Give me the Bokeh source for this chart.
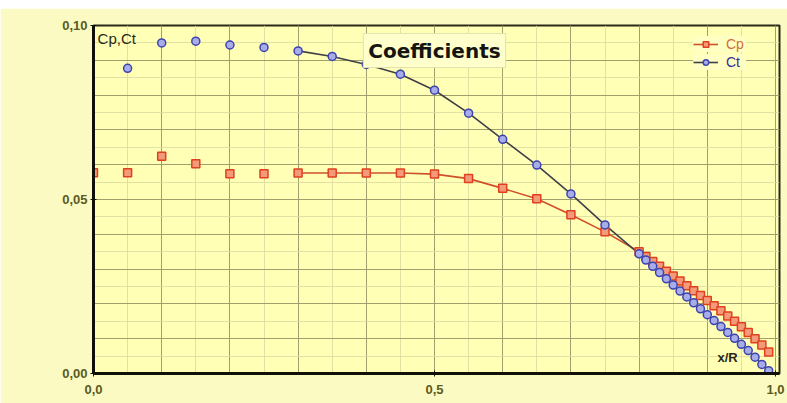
from bokeh.plotting import figure
from bokeh.models import (Range1d, SingleIntervalTicker, FixedTicker, CustomJSTickFormatter,
                          Label, Legend, LegendItem)
from bokeh.embed import file_html
from bokeh.resources import INLINE

# ---- data ----
x_cp = [0.0, 0.05, 0.10, 0.15, 0.20, 0.25, 0.30, 0.35, 0.40, 0.45, 0.50, 0.55, 0.60, 0.65, 0.70, 0.75, 0.80]
cp_vals = [0.0577, 0.0577, 0.0624, 0.0603, 0.0574, 0.0574, 0.0576, 0.0576, 0.0576, 0.0576, 0.0573, 0.0560, 0.0532, 0.0502, 0.0456, 0.0407, 0.0350]
x_ct = [0.05, 0.10, 0.15, 0.20, 0.25, 0.30, 0.35, 0.40, 0.45, 0.50, 0.55, 0.60, 0.65, 0.70, 0.75, 0.80]
ct_vals = [0.0877, 0.0950, 0.0955, 0.0944, 0.0937, 0.0927, 0.0911, 0.0888, 0.0860, 0.0814, 0.0748, 0.0673, 0.0599, 0.0516, 0.0427, 0.0344]
x_tip = [0.81, 0.82, 0.83, 0.84, 0.85, 0.86, 0.87, 0.88, 0.89, 0.90, 0.91, 0.92, 0.93, 0.94, 0.95, 0.96, 0.97, 0.98, 0.99]
cp_tip = [0.0336, 0.0322, 0.0308, 0.0294, 0.0280, 0.0266, 0.0252, 0.0238, 0.0224, 0.0210, 0.0195, 0.0180, 0.0165, 0.0150, 0.0134, 0.0118, 0.0100, 0.0082, 0.0062]
ct_tip = [0.0326, 0.0308, 0.0290, 0.0272, 0.0254, 0.0237, 0.0220, 0.0203, 0.0186, 0.0169, 0.0152, 0.0135, 0.0118, 0.0101, 0.0084, 0.0066, 0.0047, 0.0026, 0.0008]
line_start = 0.30
x_ticks = [0.0, 0.5, 1.0]
y_ticks = [0.0, 0.05, 0.10]

cp_x_all = x_cp + x_tip
cp_y_all = cp_vals + cp_tip
ct_x_all = x_ct + x_tip
ct_y_all = ct_vals + ct_tip
cp_lx = [x for x in cp_x_all if x >= line_start]
cp_ly = [y for x, y in zip(cp_x_all, cp_y_all) if x >= line_start]
ct_lx = [x for x in ct_x_all if x >= line_start]
ct_ly = [y for x, y in zip(ct_x_all, ct_y_all) if x >= line_start]

p = figure(width=787, height=395, output_backend="svg", toolbar_location=None,
           x_range=Range1d(0, 686 / 682), y_range=Range1d(0, 0.1),
           min_border_left=93, min_border_right=8, min_border_top=17, min_border_bottom=30)
p.margin = (8, 0, 0, 0)

p.background_fill_color = "#ffffb6"
p.border_fill_color = "#fbfac2"
p.outline_line_color = "#2a2a18"
p.outline_line_width = 2

# grids
p.xgrid.ticker = SingleIntervalTicker(interval=0.1, num_minor_ticks=2)
p.ygrid.ticker = SingleIntervalTicker(interval=0.01, num_minor_ticks=2)
for g in (p.xgrid, p.ygrid):
    g.grid_line_color = "#8a8a5a"
    g.grid_line_width = 1
    g.grid_line_alpha = 0.75
    g.minor_grid_line_color = "#d9d9a0"
    g.minor_grid_line_alpha = 0.8

fmt_x = CustomJSTickFormatter(code="return tick.toFixed(1).replace('.', ',');")
fmt_y = CustomJSTickFormatter(code="return tick.toFixed(2).replace('.', ',');")
p.xaxis.ticker = FixedTicker(ticks=x_ticks)
p.yaxis.ticker = FixedTicker(ticks=y_ticks)
p.xaxis.formatter = fmt_x
p.yaxis.formatter = fmt_y
for ax in (p.xaxis[0], p.yaxis[0]):
    ax.axis_line_color = "#101008"
    ax.axis_line_width = 3
    ax.major_tick_line_color = "#101008"
    ax.major_tick_out = 3
    ax.major_tick_in = 3
    ax.minor_tick_line_color = None
    ax.major_label_text_font = "Liberation Sans"
    ax.major_label_text_font_size = "13px"
    ax.major_label_text_font_style = "bold"
    ax.major_label_text_color = "#5a5a22"
    ax.major_label_standoff = 3
p.xaxis[0].major_label_standoff = 8

# series
cp_line = p.line(cp_lx, cp_ly, line_color="#d0502c", line_width=1.6)
ct_line = p.line(ct_lx, ct_ly, line_color="#404048", line_width=1.6)
cp_pts = p.scatter(cp_x_all, cp_y_all, marker="square", size=8,
                   fill_color="#f39a7a", line_color="#e0401e", line_width=1.5)
ct_pts = p.scatter(ct_x_all, ct_y_all, marker="circle", size=8,
                   fill_color="#a8ace8", line_color="#3c44b0", line_width=1.5)

# texts
p.add_layout(Label(x=0.500, y=0.0928, text="Coefficients", text_align="center", text_baseline="middle",
                   text_font="DejaVu Sans", text_font_style="bold", text_font_size="20px",
                   text_color="#141410", background_fill_color="#ffffcc",
                   border_line_color="#e2e2b0", border_line_width=1, padding=5))
p.add_layout(Label(x=0.006, y=0.0963, text="Cp,Ct", text_align="left", text_baseline="middle",
                   text_font="Liberation Sans", text_font_size="15px", text_color="#2a2a18"))
p.add_layout(Label(x=0.915, y=0.0046, text="x/R", text_align="left", text_baseline="middle",
                   text_font="Liberation Sans", text_font_size="13px", text_font_style="bold",
                   text_color="#2a2a18"))

# legends (two, for the two label colours)
leg_cp = Legend(items=[LegendItem(label="Cp", renderers=[cp_line, cp_pts])],
                location=(600, 321), label_text_color="#d07030")
leg_ct = Legend(items=[LegendItem(label="Ct", renderers=[ct_line, ct_pts])],
                location=(600, 303), label_text_color="#303090")
for lg in (leg_cp, leg_ct):
    lg.background_fill_color = "#ffffc4"
    lg.background_fill_alpha = 1.0
    lg.border_line_color = None
    lg.padding = 0
    lg.margin = 0
    lg.spacing = 0
    lg.glyph_width = 25
    lg.glyph_height = 14
    lg.label_height = 14
    lg.label_standoff = 8
    lg.label_text_font = "Liberation Sans"
    lg.label_text_font_size = "14px"
    p.add_layout(lg)

open("out.html", "w").write(file_html(p, INLINE))
